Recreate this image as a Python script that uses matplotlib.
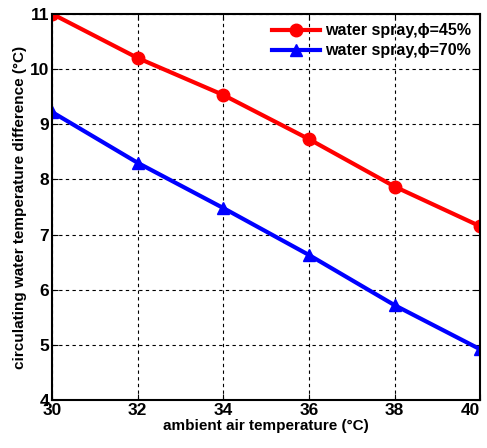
import matplotlib
matplotlib.use("Agg")
import matplotlib.pyplot as plt

# data
temp_air = [30, 32, 34, 36, 38, 40]
diff_45 = [11.0, 10.2, 9.53, 8.73, 7.87, 7.15]
diff_70 = [9.22, 8.30, 7.48, 6.63, 5.72, 4.92]

plt.rcParams['font.family'] = ['Liberation Sans', 'DejaVu Sans']

fig = plt.figure(figsize=(4.87, 4.48), dpi=100)
ax = fig.add_axes([0.107, 0.107, 0.879, 0.862])

ax.plot(temp_air, diff_45, color="red", lw=3, marker="o", ms=9,
        label="water spray,\u03d5=45%")
ax.plot(temp_air, diff_70, color="blue", lw=3, marker="^", ms=8,
        label="water spray,\u03d5=70%")

ax.set_xlim(30, 40)
ax.set_ylim(4, 11)
ax.set_xticks(temp_air)
ax.set_yticks(range(4, 12))
ax.grid(True, color="black", linestyle=(0, (3, 3)), lw=0.8)
ax.tick_params(direction="in", top=True, right=True, labelsize=12.5, length=4, pad=2)
for lbl in ax.get_xticklabels() + ax.get_yticklabels():
    lbl.set_fontweight("bold")
# keep the last x label inside the figure
ax.get_xticklabels()[-1].set_horizontalalignment("right")
for s in ax.spines.values():
    s.set_linewidth(1.5)

ax.set_xlabel("ambient air temperature (\u00b0C)", fontsize=11, fontweight="bold", labelpad=1)
ax.set_ylabel("circulating water temperature difference (\u00b0C)", fontsize=11,
              fontweight="bold", labelpad=2)

leg = ax.legend(loc="upper right", frameon=False, fontsize=11.5, handlelength=3,
                borderaxespad=0.2, labelspacing=0.3, handletextpad=0.3)
for t in leg.get_texts():
    t.set_fontweight("bold")

fig.savefig("out.png", dpi=100)
